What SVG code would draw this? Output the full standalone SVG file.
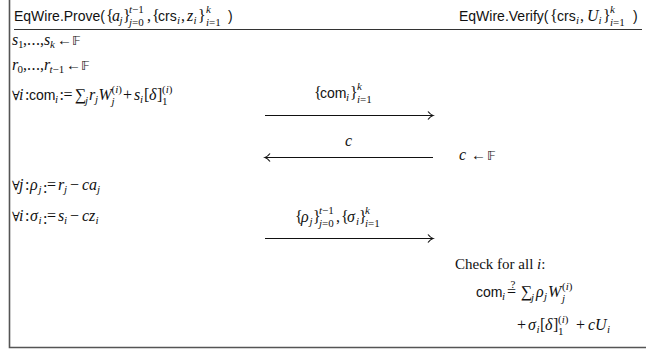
<svg xmlns="http://www.w3.org/2000/svg" width="646" height="349" viewBox="0 0 646 349">
<defs>
<style>
text{font-family:"Liberation Serif","DejaVu Serif",serif;font-size:16px;fill:#111}
.s{font-family:"Liberation Sans","DejaVu Sans",sans-serif;font-size:14px}
.i{font-style:italic}
.sc{font-size:11px}
.fa{font-size:13px}
.t{font-size:15px}
.bb{font-family:"DejaVu Sans","DejaVu Serif",serif;font-size:13px;fill:#111}
.frame{fill:none;stroke:#555;stroke-width:1.6}
.rule{stroke:#333;stroke-width:1}
.msg{stroke:#111;stroke-width:1;fill:none}
</style>
<marker id="ah" markerWidth="12" markerHeight="12" refX="9" refY="6" orient="auto" markerUnits="userSpaceOnUse" overflow="visible">
<path d="M4,2 Q6.5,5.2 9,6 Q6.5,6.8 4,10" fill="none" stroke="#111" stroke-width="1.2"/>
</marker>
</defs>
<g id="frame">
<path class="frame" d="M9.5,0 V347.5 H646"/>
<line class="rule" x1="14" y1="29.5" x2="642" y2="29.5"/>
</g>
<g id="prover-title">
<text x="14" y="21"><tspan class="s">EqWire.Prove(</tspan><tspan x="106">{</tspan><tspan x="112" class="i">a</tspan><tspan x="119.5" y="24" class="sc i">j</tspan><tspan x="123" y="21">}</tspan><tspan x="129" y="13" class="sc"><tspan class="i">t</tspan>−1</tspan><tspan x="129" y="26" class="sc"><tspan class="i">j</tspan>=0</tspan><tspan x="147" y="21">,</tspan><tspan x="152">{</tspan><tspan x="158" class="s">crs</tspan><tspan x="177" y="24" class="sc i">i</tspan><tspan x="181" y="21">,</tspan><tspan x="187" class="i">z</tspan><tspan x="193.5" y="24" class="sc i">i</tspan><tspan x="198" y="21">}</tspan><tspan x="206" y="13" class="sc i">k</tspan><tspan x="206" y="26" class="sc"><tspan class="i">i</tspan>=1</tspan><tspan x="228" y="21" class="s">)</tspan></text>
</g>
<g id="verifier-title">
<text x="459" y="21"><tspan class="s">EqWire.Verify(</tspan><tspan x="550">{</tspan><tspan x="557" class="s">crs</tspan><tspan x="576" y="24" class="sc i">i</tspan><tspan x="580" y="21">,</tspan><tspan x="587" class="i">U</tspan><tspan x="598.5" y="24" class="sc i">i</tspan><tspan x="603" y="21">}</tspan><tspan x="610" y="13" class="sc i">k</tspan><tspan x="610" y="26" class="sc"><tspan class="i">i</tspan>=1</tspan><tspan x="633" y="21" class="s">)</tspan></text>
</g>
<g id="prover-steps">
<text x="12" y="45"><tspan class="i">s</tspan><tspan x="18" y="48" class="sc">1</tspan><tspan x="23" y="45">,</tspan><tspan x="27">.</tspan><tspan x="31.5">.</tspan><tspan x="36">.</tspan><tspan x="40">,</tspan><tspan x="44" class="i">s</tspan><tspan x="50" y="48" class="sc i">k</tspan><tspan x="57" y="45" class="t">←</tspan><tspan x="72" class="bb">𝔽</tspan></text>
<text x="12" y="70"><tspan class="i">r</tspan><tspan x="17.5" y="73" class="sc">0</tspan><tspan x="23" y="70">,</tspan><tspan x="27">.</tspan><tspan x="31.5">.</tspan><tspan x="36">.</tspan><tspan x="40">,</tspan><tspan x="44" class="i">r</tspan><tspan x="49.5" y="73" class="sc"><tspan class="i">t</tspan>−1</tspan><tspan x="66" y="70" class="t">←</tspan><tspan x="81" class="bb">𝔽</tspan></text>
<text x="12" y="100"><tspan class="fa">∀</tspan><tspan x="19" class="i">i</tspan><tspan x="25">:</tspan><tspan x="29" class="s">com</tspan><tspan x="55" y="103" class="sc i">i</tspan><tspan x="59.5" y="100">:</tspan><tspan x="63.5">=</tspan><tspan x="75">∑</tspan><tspan x="85" y="104" class="sc i">j</tspan><tspan x="89" y="100" class="i">r</tspan><tspan x="95" y="103" class="sc i">j</tspan><tspan x="98.5" y="100" class="i">W</tspan><tspan x="111.5" y="93" class="sc">(<tspan class="i">i</tspan>)</tspan><tspan x="111.5" y="105" class="sc i">j</tspan><tspan x="123" y="100">+</tspan><tspan x="134" class="i">s</tspan><tspan x="140" y="103" class="sc i">i</tspan><tspan x="144" y="100">[</tspan><tspan x="149" class="i">δ</tspan><tspan x="157">]</tspan><tspan x="162" y="93" class="sc">(<tspan class="i">i</tspan>)</tspan><tspan x="162" y="105" class="sc">1</tspan></text>
<text x="12" y="190"><tspan class="fa">∀</tspan><tspan x="19" class="i">j</tspan><tspan x="25">:</tspan><tspan x="30" class="i">ρ</tspan><tspan x="38.5" y="193" class="sc i">j</tspan><tspan x="43">:</tspan><tspan x="47" y="190">=</tspan><tspan x="58" class="i">r</tspan><tspan x="64" y="193" class="sc i">j</tspan><tspan x="70" y="190">−</tspan><tspan x="82" class="i">ca</tspan><tspan x="97" y="193" class="sc i">j</tspan></text>
<text x="12" y="221"><tspan class="fa">∀</tspan><tspan x="19" class="i">i</tspan><tspan x="25">:</tspan><tspan x="30" class="i">σ</tspan><tspan x="38.5" y="224" class="sc i">i</tspan><tspan x="43">:</tspan><tspan x="47" y="221">=</tspan><tspan x="58" class="i">s</tspan><tspan x="64" y="224" class="sc i">i</tspan><tspan x="70" y="221">−</tspan><tspan x="82" class="i">cz</tspan><tspan x="95.5" y="224" class="sc i">i</tspan></text>
</g>
<g id="verifier-steps">
<text x="459" y="160"><tspan class="i">c</tspan><tspan x="471" class="t">←</tspan><tspan x="487" class="bb">𝔽</tspan></text>
<text x="455" y="269" class="t">Check for all <tspan class="i">i</tspan>:</text>
<text x="476" y="297"><tspan class="s">com</tspan><tspan x="502" y="300" class="sc i">i</tspan><tspan x="507" y="297">=</tspan><tspan x="510.5" y="287.5" class="sc">?</tspan><tspan x="521" y="297">∑</tspan><tspan x="531" y="301" class="sc i">j</tspan><tspan x="536" y="297" class="i">ρ</tspan><tspan x="544" y="300" class="sc i">j</tspan><tspan x="548" y="297" class="i">W</tspan><tspan x="562" y="290" class="sc">(<tspan class="i">i</tspan>)</tspan><tspan x="562" y="302" class="sc i">j</tspan></text>
<text x="517" y="330"><tspan>+</tspan><tspan x="528" class="i">σ</tspan><tspan x="536.5" y="333" class="sc i">i</tspan><tspan x="540" y="330">[</tspan><tspan x="545" class="i">δ</tspan><tspan x="553">]</tspan><tspan x="558" y="323" class="sc">(<tspan class="i">i</tspan>)</tspan><tspan x="558" y="335" class="sc">1</tspan><tspan x="576" y="330">+</tspan><tspan x="588" class="i">cU</tspan><tspan x="607" y="333" class="sc i">i</tspan></text>
</g>
<g id="connectors">
<line class="msg" x1="265" y1="115.5" x2="433" y2="115.5" marker-end="url(#ah)"/>
<line class="msg" x1="433" y1="157.5" x2="265" y2="157.5" marker-end="url(#ah)"/>
<line class="msg" x1="265" y1="238.5" x2="433" y2="238.5" marker-end="url(#ah)"/>
<text x="314" y="98"><tspan>{</tspan><tspan x="320" class="s">com</tspan><tspan x="346" y="101" class="sc i">i</tspan><tspan x="350" y="98">}</tspan><tspan x="357" y="90" class="sc i">k</tspan><tspan x="357" y="103" class="sc"><tspan class="i">i</tspan>=1</tspan></text>
<text x="345" y="146" class="i">c</text>
<text x="295" y="222"><tspan>{</tspan><tspan x="301" class="i">ρ</tspan><tspan x="309.5" y="225" class="sc i">j</tspan><tspan x="313" y="222">}</tspan><tspan x="319" y="214" class="sc"><tspan class="i">t</tspan>−1</tspan><tspan x="319" y="227" class="sc"><tspan class="i">j</tspan>=0</tspan><tspan x="336" y="222">,</tspan><tspan x="341">{</tspan><tspan x="347" class="i">σ</tspan><tspan x="356" y="225" class="sc i">i</tspan><tspan x="359" y="222">}</tspan><tspan x="365" y="214" class="sc i">k</tspan><tspan x="365" y="227" class="sc"><tspan class="i">i</tspan>=1</tspan></text>
</g>
</svg>
